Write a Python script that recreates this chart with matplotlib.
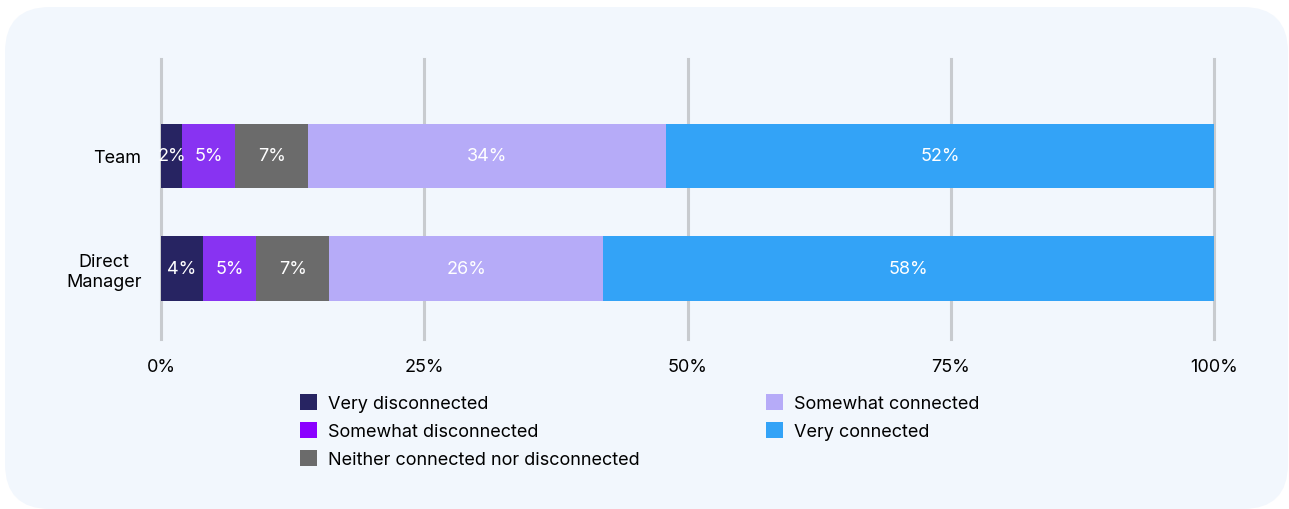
import matplotlib
matplotlib.use("Agg")
import matplotlib.pyplot as plt
from matplotlib.patches import FancyBboxPatch, Patch
import numpy as np

# ── Data ─────────────────────────────────────────────────────────────────── #
groups = ["Team", "Direct\nManager"]
categories = [
    "Very disconnected",
    "Somewhat disconnected",
    "Neither connected nor disconnected",
    "Somewhat connected",
    "Very connected",
]
team_vals    = [2, 5, 7, 34, 52]
manager_vals = [4, 5, 7, 26, 58]
x_ticks = [0, 25, 50, 75, 100]

COLORS = ["#272462", "#8833F2", "#6B6B6B", "#B6ABF8", "#33A3F7"]
LEGEND_COLORS = ["#272462", "#8B00FF", "#6B6B6B", "#B6ABF8", "#33A3F7"]

plt.rcParams.update({
    "font.family": ["Inter", "DejaVu Sans"],
    "font.size": 13,
})

fig = plt.figure(figsize=(12.89, 5.10), dpi=100)
fig.patch.set_facecolor("white")
bg = FancyBboxPatch((5 / 1289, 0.0), 1283 / 1289, 502 / 510,
                    boxstyle="round,pad=0,rounding_size=0.035",
                    transform=fig.transFigure, facecolor="#F2F7FD",
                    edgecolor="none", zorder=-10, mutation_aspect=1289 / 510)
fig.patches.append(bg)

ax = fig.add_axes([161 / 1289, 1 - 340 / 510, 1053 / 1289, 280 / 510])
ax.set_facecolor("none")

y = np.arange(len(groups))
data = np.array([team_vals, manager_vals])
left = np.zeros(len(groups))
for i, cat in enumerate(categories):
    vals = data[:, i]
    ax.barh(y, vals, left=left, height=0.57, color=COLORS[i], zorder=3)
    for yy, l, v in zip(y, left, vals):
        ax.text(l + v / 2, yy, f"{v}%", ha="center", va="center",
                color="white", fontsize=13, zorder=4)
    left += vals

ax.set_xlim(0, 100)
ax.set_ylim(1.627, -0.862)
ax.set_xticks(x_ticks)
ax.set_xticklabels([f"{t}%" for t in x_ticks])
ax.set_yticks(y)
ax.set_yticklabels(groups, multialignment="center")
ax.tick_params(axis="both", length=0, labelsize=13, colors="black")
ax.tick_params(axis="x", pad=14)
ax.tick_params(axis="y", pad=14)
for t in x_ticks:
    ax.axvline(t, color="#C8CBCF", linewidth=2.2, zorder=1, clip_on=False)
for s in ax.spines.values():
    s.set_visible(False)

handles = [Patch(facecolor=c, edgecolor="none") for c in LEGEND_COLORS]
fig.legend(handles, categories, loc="upper left",
           bbox_to_anchor=(300 / 1289, 1 - 395 / 510), ncol=2,
           frameon=False, fontsize=13, handlelength=0.95, handleheight=0.95,
           handletextpad=0.6, labelspacing=0.56, columnspacing=7.0,
           borderaxespad=0, borderpad=0)

fig.savefig("out.png", dpi=100, facecolor=fig.get_facecolor())
